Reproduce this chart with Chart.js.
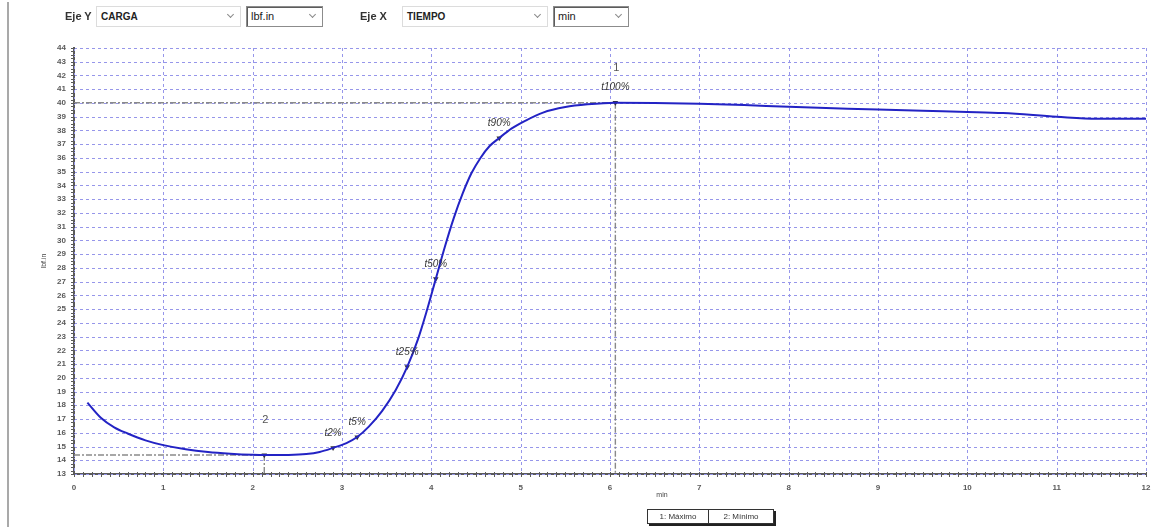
<!DOCTYPE html>
<html>
<head>
<meta charset="utf-8">
<script src="https://cdn.jsdelivr.net/npm/chart.js@4.4.1/dist/chart.umd.min.js"></script>
<style>
  html, body { margin: 0; padding: 0; background: #fff; width: 1153px; height: 527px; overflow: hidden;
    font-family: 'Liberation Sans', Arial, sans-serif; }
  #plot { position: absolute; left: 0; top: 0; }
  #leftbar { position: absolute; left: 7px; top: 2px; width: 2px; height: 525px; background: #a9a9a9; }
  .lbl { position: absolute; top: 10px; font-size: 11px; font-weight: bold; color: #333; }
  .sel { position: absolute; top: 6px; height: 21px; box-sizing: border-box; border: 1px solid #dcdcdc;
    background: #fff; font-size: 10px; font-weight: bold; color: #222; line-height: 19px; padding-left: 4px; }
  .sel.dk { border: 1px solid #8c8c8c; box-shadow: inset 1px 1px 0 #5c5c5c; }
  .sel.dk span.t { font-weight: normal; font-size: 11px; }
  .chev { position: absolute; right: 7px; top: 5px; width: 4px; height: 4px;
    border-right: 1px solid #8a8a8a; border-bottom: 1px solid #8a8a8a; transform: rotate(45deg); }
  #legend { position: absolute; left: 647px; top: 509px; height: 13px; display: flex; background: #fff;
    border: 1px solid #333; box-shadow: 2px 2px 0 #222; font-size: 8px; color: #333; line-height: 13px; }
  #legend div { box-sizing: border-box; text-align: center; }
  #legend div + div { border-left: 1px solid #333; }
</style>
</head>
<body>
<div id="leftbar"></div>
<canvas id="plot" width="1153" height="527"></canvas>

<div class="lbl" style="left:65px;">Eje Y</div>
<div class="sel" style="left:96px;width:145px;"><span class="t">CARGA</span><i class="chev"></i></div>
<div class="sel dk" style="left:246px;width:77px;"><span class="t">lbf.in</span><i class="chev"></i></div>
<div class="lbl" style="left:360px;">Eje X</div>
<div class="sel" style="left:402px;width:146px;"><span class="t">TIEMPO</span><i class="chev"></i></div>
<div class="sel dk" style="left:553px;width:76px;"><span class="t">min</span><i class="chev"></i></div>

<div id="legend"><div style="width:60px">1: Máximo</div><div style="width:65px">2: Mínimo</div></div>

<script>
// Load (lbf.in) versus time (min)
const timeMin = [0.15, 0.3, 0.45, 0.6, 0.8, 1.0, 1.25, 1.5, 1.75, 2.0, 2.13, 2.4, 2.6, 2.75, 2.9,
  3.05, 3.17, 3.3, 3.45, 3.6, 3.73, 3.85, 3.95, 4.05, 4.15, 4.25, 4.35, 4.45, 4.55, 4.65, 4.76, 4.9, 5.05,
  5.25, 5.5, 5.75, 6.06, 6.5, 7.0, 7.5, 8.0, 8.5, 9.0, 9.5, 10.0, 10.4, 11.0, 11.45, 12.0];
const loadLbfIn = [18.2, 17.1, 16.4, 15.95, 15.45, 15.1, 14.8, 14.6, 14.48, 14.4, 14.38, 14.39, 14.45, 14.6, 14.9,
  15.25, 15.69, 16.45, 17.6, 19.1, 20.8, 22.8, 24.9, 27.2, 29.5, 31.6, 33.4, 34.9, 36.0, 36.85, 37.45, 38.15, 38.7,
  39.3, 39.7, 39.9, 40.02, 40.0, 39.95, 39.85, 39.72, 39.62, 39.52, 39.43, 39.35, 39.27, 39.0, 38.85, 38.85];

// Cure-time markers along the curve
const markerNames = ['t2%', 't5%', 't25%', 't50%', 't90%', 't100%'];
const markerTimes = [2.9, 3.17, 3.73, 4.05, 4.76, 6.06];
const markerLoads = [14.9, 15.69, 20.8, 27.2, 37.45, 40.02];

// Extremes: 1 = maximum, 2 = minimum
const extremeIds = ['1', '2'];
const extremeTimes = [6.06, 2.13];
const extremeLoads = [40.02, 14.38];

// Axis ticks
const xTicks = [0, 1, 2, 3, 4, 5, 6, 7, 8, 9, 10, 11, 12];
const yTicks = [13, 14, 15, 16, 17, 18, 19, 20, 21, 22, 23, 24, 25, 26, 27, 28, 29, 30,
  31, 32, 33, 34, 35, 36, 37, 38, 39, 40, 41, 42, 43, 44];
const xTitle = 'min';
const yTitle = 'lbf.in';

const curve = timeMin.map((t, i) => ({ x: t, y: loadLbfIn[i] }));
const markPts = markerTimes.map((t, i) => ({ x: t, y: markerLoads[i] }))
  .concat([{ x: extremeTimes[1], y: extremeLoads[1] }]);

const tickFont = { family: 'Liberation Sans', size: 8, weight: 'bold' };

const overlay = {
  id: 'overlay',
  beforeDatasetsDraw(chart) {
    const { ctx, chartArea: a, scales: { x, y } } = chart;
    ctx.save();
    // dotted grid
    ctx.strokeStyle = '#9696ea';
    ctx.lineWidth = 1;
    ctx.setLineDash([3, 3]);
    xTicks.forEach(v => {
      const px = Math.round(x.getPixelForValue(v)) + 0.5;
      ctx.beginPath(); ctx.moveTo(px, a.top); ctx.lineTo(px, a.bottom + 4); ctx.stroke();
    });
    yTicks.forEach(v => {
      const py = Math.round(y.getPixelForValue(v)) + 0.5;
      ctx.beginPath(); ctx.moveTo(a.left, py); ctx.lineTo(a.right, py); ctx.stroke();
    });
    // reference lines to the extremes
    ctx.strokeStyle = '#8a8a8a';
    ctx.lineWidth = 1.4;
    ctx.setLineDash([6, 2, 2, 2]);
    extremeIds.forEach((id, i) => {
      const px = x.getPixelForValue(extremeTimes[i]);
      const py = y.getPixelForValue(extremeLoads[i]);
      ctx.beginPath();
      ctx.moveTo(x.getPixelForValue(x.min), py);
      ctx.lineTo(px, py);
      ctx.moveTo(px, py);
      ctx.lineTo(px, y.getPixelForValue(y.min));
      ctx.stroke();
    });
    ctx.restore();
  },
  afterDatasetsDraw(chart) {
    const { ctx, chartArea: a, scales: { x, y } } = chart;
    ctx.save();
    ctx.textAlign = 'center';
    ctx.textBaseline = 'middle';
    ctx.fillStyle = '#353535';
    ctx.font = 'italic 10px "Liberation Sans", Arial, sans-serif';
    markerNames.forEach((n, i) => {
      ctx.fillText(n, x.getPixelForValue(markerTimes[i]), y.getPixelForValue(markerLoads[i]) - 15);
    });
    ctx.fillStyle = '#555';
    ctx.font = '11px "Liberation Sans", Arial, sans-serif';
    extremeIds.forEach((id, i) => {
      ctx.fillText(id, x.getPixelForValue(extremeTimes[i]) + 1, y.getPixelForValue(extremeLoads[i]) - 35);
    });
    // x-axis title, set right of centre
    ctx.fillStyle = '#444';
    ctx.font = '7px "Liberation Sans", Arial, sans-serif';
    ctx.fillText(xTitle, (a.left + a.right) / 2 + 52, a.bottom + 21);
    // minor ticks on both axes
    ctx.strokeStyle = '#5a5a5a';
    ctx.lineWidth = 1;
    const by = y.getPixelForValue(y.min);
    for (let v = x.min; v <= x.max + 1e-6; v += 0.1) {
      const px = Math.round(x.getPixelForValue(v)) + 0.5;
      ctx.beginPath(); ctx.moveTo(px, by - 2); ctx.lineTo(px, by + 3); ctx.stroke();
    }
    const lx = x.getPixelForValue(x.min);
    for (let v = y.min; v <= y.max + 1e-6; v += 0.25) {
      const py = Math.round(y.getPixelForValue(v)) + 0.5;
      ctx.beginPath(); ctx.moveTo(lx - 3, py); ctx.lineTo(lx + 1, py); ctx.stroke();
    }
    ctx.restore();
  }
};

new Chart(document.getElementById('plot'), {
  type: 'line',
  data: {
    datasets: [
      {
        data: curve,
        borderColor: '#2323c4',
        borderWidth: 2,
        pointRadius: 0,
        cubicInterpolationMode: 'monotone',
        fill: false
      },
      {
        data: markPts,
        showLine: false,
        pointStyle: 'triangle',
        rotation: 180,
        pointRadius: 3.2,
        pointBackgroundColor: '#333',
        pointBorderColor: '#333',
        pointBorderWidth: 0
      }
    ]
  },
  options: {
    responsive: false,
    animation: false,
    devicePixelRatio: 1,
    layout: { padding: { top: 48, right: 0, left: 0, bottom: 0 } },
    plugins: { legend: { display: false }, tooltip: { enabled: false } },
    scales: {
      x: {
        type: 'linear',
        min: 0, max: 12,
        afterBuildTicks: s => { s.ticks = xTicks.map(v => ({ value: v })); },
        afterFit: s => { s.height = 53; s.paddingRight = 7; s.paddingLeft = 0; },
        ticks: { font: tickFont, color: '#5a5a5a', padding: 9, maxRotation: 0 },
        grid: { display: false, drawTicks: false },
        border: { display: true, color: '#5a5a5a', width: 2 },
        title: { display: false }
      },
      y: {
        type: 'linear',
        min: 13, max: 44,
        afterBuildTicks: s => { s.ticks = yTicks.map(v => ({ value: v })); },
        afterFit: s => { s.width = 74; },
        ticks: { font: tickFont, color: '#5a5a5a', padding: 8 },
        grid: { display: false, drawTicks: false },
        border: { display: true, color: '#5a5a5a', width: 2 },
        title: { display: true, text: yTitle, font: { family: 'Liberation Sans', size: 7 }, color: '#444',
          padding: { top: 40, bottom: 0 } }
      }
    }
  },
  plugins: [overlay]
});
</script>
</body>
</html>
